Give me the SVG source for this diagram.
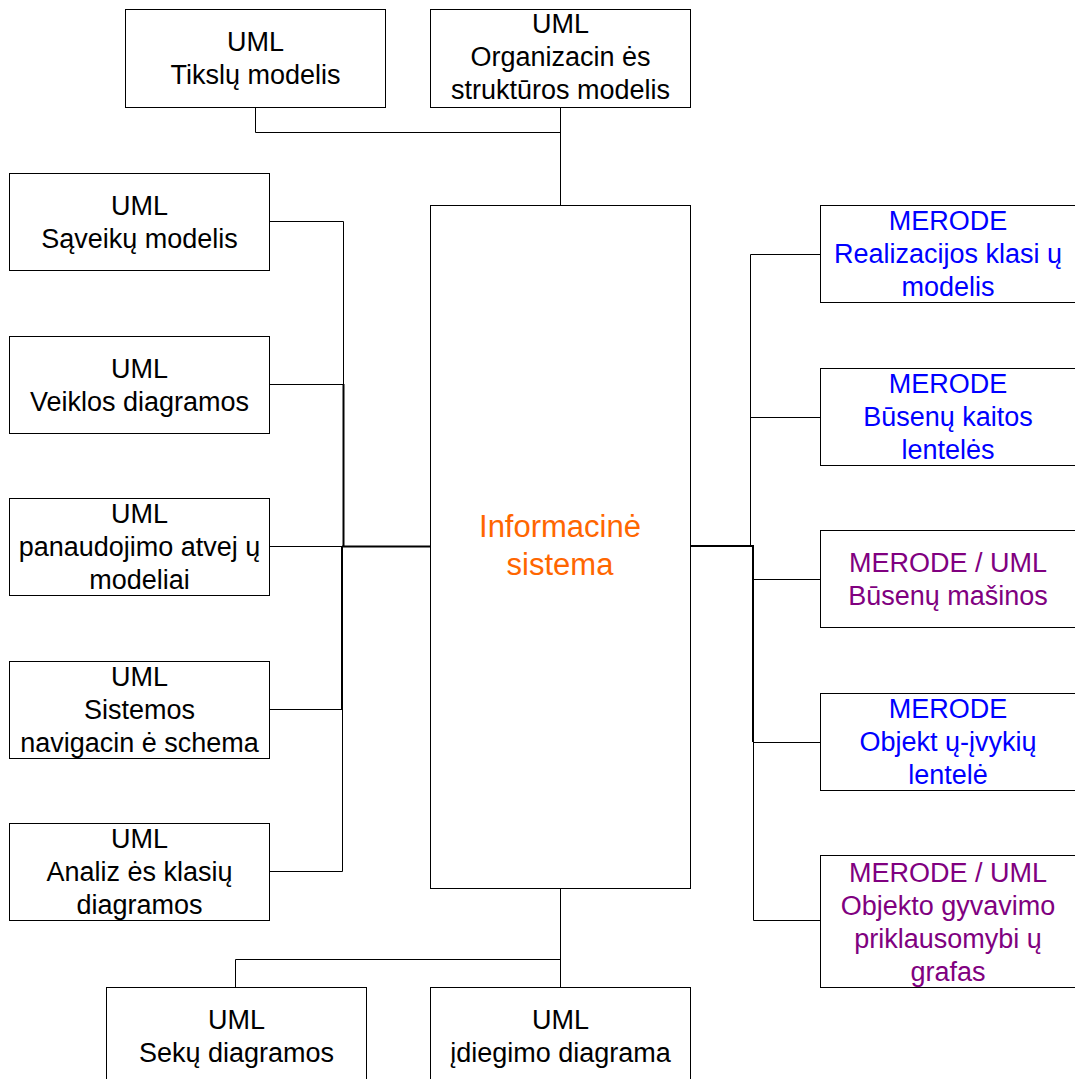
<svg xmlns="http://www.w3.org/2000/svg" width="1075" height="1079" viewBox="0 0 1075 1079">
  <style>
    .box { fill: #ffffff; stroke: #000000; stroke-width: 1; }
    .wire { fill: none; stroke: #000000; stroke-width: 1; }
    .trunk { fill: none; stroke: #000000; stroke-width: 2; }
    text { font-family: "Liberation Sans", Arial, sans-serif; font-size: 27px; text-anchor: middle; }
    .uml { fill: #000000; }
    .merode { fill: #0000ff; }
    .mixed { fill: #800080; }
    .core { fill: #ff6600; font-size: 31px; }
  </style>
  <rect width="1075" height="1079" fill="#ffffff"/>

  <!-- connectors -->
  <g id="connectors">
    <!-- top pair -->
    <polyline class="wire" points="255.5,107 255.5,132.5 560.5,132.5"/>
    <line class="wire" x1="560.5" y1="107" x2="560.5" y2="205"/>
    <!-- left bus -->
    <polyline class="wire" points="269,221.5 343.5,221.5 343.5,384"/>
    <line class="wire" x1="269" y1="384.5" x2="343" y2="384.5"/>
    <line class="trunk" x1="343.5" y1="384" x2="343.5" y2="547"/>
    <line class="trunk" x1="342" y1="546.5" x2="430" y2="546.5"/>
    <line class="wire" x1="269" y1="546.5" x2="342" y2="546.5"/>
    <line class="trunk" x1="342" y1="546" x2="342" y2="709.5"/>
    <line class="wire" x1="269" y1="709.5" x2="342" y2="709.5"/>
    <polyline class="wire" points="342.5,709 342.5,871.5 269,871.5"/>
    <!-- right bus -->
    <polyline class="wire" points="820,254.5 750.5,254.5 750.5,546"/>
    <line class="wire" x1="750.5" y1="417.5" x2="820" y2="417.5"/>
    <line class="trunk" x1="690" y1="546" x2="754" y2="546"/>
    <line class="trunk" x1="753" y1="545" x2="753" y2="742"/>
    <line class="wire" x1="753" y1="579.5" x2="820" y2="579.5"/>
    <line class="wire" x1="753" y1="742.5" x2="820" y2="742.5"/>
    <polyline class="wire" points="753.5,742 753.5,920.5 820,920.5"/>
    <!-- bottom pair -->
    <line class="wire" x1="560.5" y1="888" x2="560.5" y2="987"/>
    <polyline class="wire" points="560.5,959.5 235.5,959.5 235.5,987"/>
  </g>

  <!-- central system -->
  <g id="node-system">
    <rect class="box" x="430.5" y="205.5" width="260" height="683"/>
    <text class="core" x="560" y="537">Informacinė</text>
    <text class="core" x="560" y="575">sistema</text>
  </g>

  <!-- top row -->
  <g id="node-tiksl">
    <rect class="box" x="125.5" y="9.5" width="260" height="98"/>
    <text class="uml" x="255.5" y="51">UML</text>
    <text class="uml" x="255.5" y="84">Tikslų modelis</text>
  </g>
  <g id="node-organizacine">
    <rect class="box" x="430.5" y="9.5" width="260" height="98"/>
    <text class="uml" x="560.5" y="32.5">UML</text>
    <text class="uml" x="560.5" y="65.5">Organizacin ės</text>
    <text class="uml" x="560.5" y="98.5">struktūros modelis</text>
  </g>

  <!-- left column -->
  <g id="node-saveikos">
    <rect class="box" x="9.5" y="173.5" width="260" height="97"/>
    <text class="uml" x="139.5" y="214.5">UML</text>
    <text class="uml" x="139.5" y="247.5">Sąveikų modelis</text>
  </g>
  <g id="node-veiklos">
    <rect class="box" x="9.5" y="336.5" width="260" height="97"/>
    <text class="uml" x="139.5" y="377.5">UML</text>
    <text class="uml" x="139.5" y="410.5">Veiklos diagramos</text>
  </g>
  <g id="node-panaudojimo">
    <rect class="box" x="9.5" y="498.5" width="260" height="97"/>
    <text class="uml" x="139.5" y="523">UML</text>
    <text class="uml" x="139.5" y="556">panaudojimo atvej ų</text>
    <text class="uml" x="139.5" y="589">modeliai</text>
  </g>
  <g id="node-navigacija">
    <rect class="box" x="9.5" y="661.5" width="260" height="97"/>
    <text class="uml" x="139.5" y="686">UML</text>
    <text class="uml" x="139.5" y="719">Sistemos</text>
    <text class="uml" x="139.5" y="752">navigacin ė schema</text>
  </g>
  <g id="node-analize">
    <rect class="box" x="9.5" y="823.5" width="260" height="97"/>
    <text class="uml" x="139.5" y="848">UML</text>
    <text class="uml" x="139.5" y="881">Analiz ės klasių</text>
    <text class="uml" x="139.5" y="914">diagramos</text>
  </g>

  <!-- right column -->
  <g id="node-realizacija">
    <rect class="box" x="820.5" y="205.5" width="262" height="97"/>
    <text class="merode" x="948" y="230">MERODE</text>
    <text class="merode" x="948" y="263">Realizacijos klasi ų</text>
    <text class="merode" x="948" y="296">modelis</text>
  </g>
  <g id="node-busenu-kaita">
    <rect class="box" x="820.5" y="368.5" width="262" height="97"/>
    <text class="merode" x="948" y="393">MERODE</text>
    <text class="merode" x="948" y="426">Būsenų kaitos</text>
    <text class="merode" x="948" y="459">lentelės</text>
  </g>
  <g id="node-busenu-masinos">
    <rect class="box" x="820.5" y="530.5" width="262" height="97"/>
    <text class="mixed" x="948" y="571.5">MERODE / UML</text>
    <text class="mixed" x="948" y="604.5">Būsenų mašinos</text>
  </g>
  <g id="node-objektu-ivykiu">
    <rect class="box" x="820.5" y="693.5" width="262" height="97"/>
    <text class="merode" x="948" y="718">MERODE</text>
    <text class="merode" x="948" y="751">Objekt ų-įvykių</text>
    <text class="merode" x="948" y="784">lentelė</text>
  </g>
  <g id="node-gyvavimo">
    <rect class="box" x="820.5" y="855.5" width="262" height="132"/>
    <text class="mixed" x="948" y="881.5">MERODE / UML</text>
    <text class="mixed" x="948" y="914.5">Objekto gyvavimo</text>
    <text class="mixed" x="948" y="947.5">priklausomybi ų</text>
    <text class="mixed" x="948" y="980.5">grafas</text>
  </g>

  <!-- bottom row -->
  <g id="node-seku">
    <rect class="box" x="106.5" y="987.5" width="260" height="100"/>
    <text class="uml" x="236.5" y="1029">UML</text>
    <text class="uml" x="236.5" y="1062">Sekų diagramos</text>
  </g>
  <g id="node-idiegimo">
    <rect class="box" x="430.5" y="987.5" width="260" height="100"/>
    <text class="uml" x="560.5" y="1029">UML</text>
    <text class="uml" x="560.5" y="1062">įdiegimo diagrama</text>
  </g>
</svg>
